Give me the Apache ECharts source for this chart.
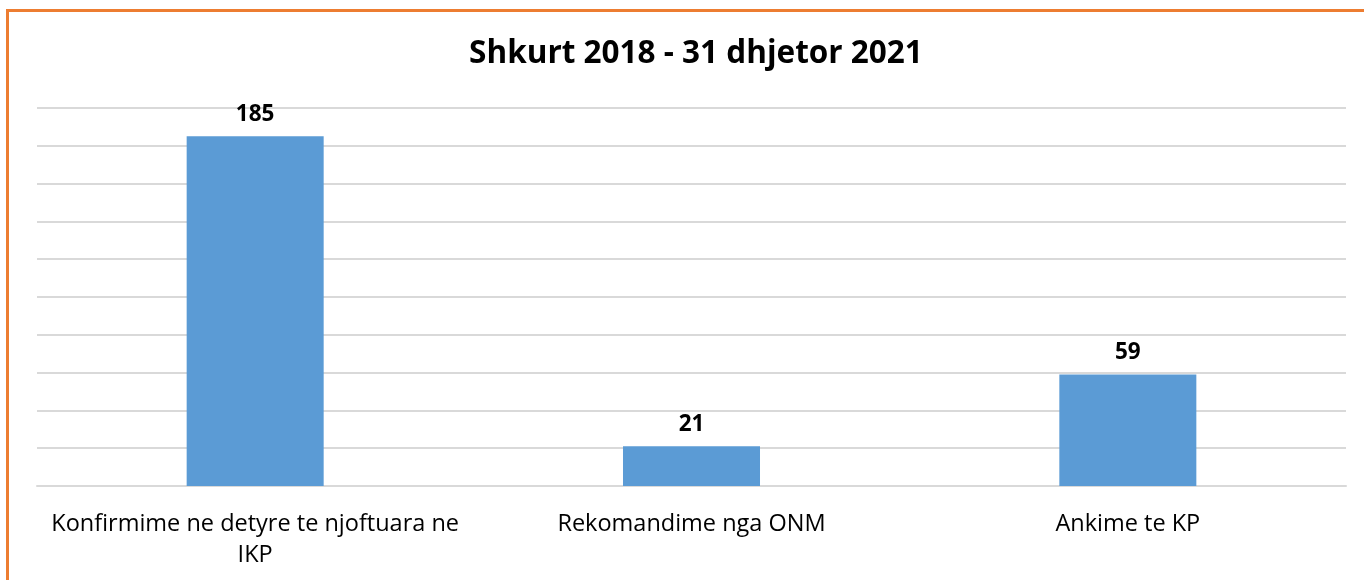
<!DOCTYPE html>
<html>
<head>
<meta charset="utf-8">
<script src="https://cdn.jsdelivr.net/npm/echarts@6/dist/echarts.min.js"></script>
<style>
  html, body { margin: 0; padding: 0; background: #fff; }
  #frame {
    position: absolute; left: 6px; top: 9px; width: 1400px; height: 600px;
    border-top: 3px solid #ed7d31; border-left: 3px solid #ed7d31;
    box-sizing: border-box;
  }
  #chart { position: absolute; left: 0; top: 0; width: 1364px; height: 580px; }
</style>
</head>
<body>
<div id="frame"></div>
<div id="chart"></div>
<script>
// data
var categories = ['Konfirmime ne detyre te njoftuara ne\nIKP', 'Rekomandime nga ONM', 'Ankime te KP'];
var values = [185, 21, 59];
var titleText = 'Shkurt 2018 - 31 dhjetor 2021';

var font = 'Open Sans';
var chart = echarts.init(document.getElementById('chart'));
chart.setOption({
  animation: false,
  title: {
    text: titleText,
    left: 691, top: 33, textAlign: 'center',
    textStyle: { fontFamily: font, fontWeight: 'bold', fontSize: 31.5, color: '#000' }
  },
  grid: { left: 37, right: 18, top: 108, bottom: 94 },
  xAxis: {
    type: 'category',
    data: categories,
    axisTick: { show: false },
    axisLine: { lineStyle: { color: '#d9d9d9', width: 2 } },
    axisLabel: { fontFamily: font, fontSize: 23.5, color: '#000', margin: 23, lineHeight: 31, interval: 0 }
  },
  yAxis: {
    type: 'value',
    min: 0, max: 200, interval: 20,
    axisLabel: { show: false },
    axisLine: { show: false },
    axisTick: { show: false },
    splitLine: { lineStyle: { color: '#d9d9d9', width: 2 } }
  },
  series: [{
    type: 'bar',
    data: values,
    barWidth: '31.4%',
    itemStyle: { color: '#5b9bd5' },
    label: {
      show: true, position: 'top', distance: 10,
      fontFamily: font, fontWeight: 'bold', fontSize: 22.5, color: '#000'
    }
  }]
});
</script>
</body>
</html>
